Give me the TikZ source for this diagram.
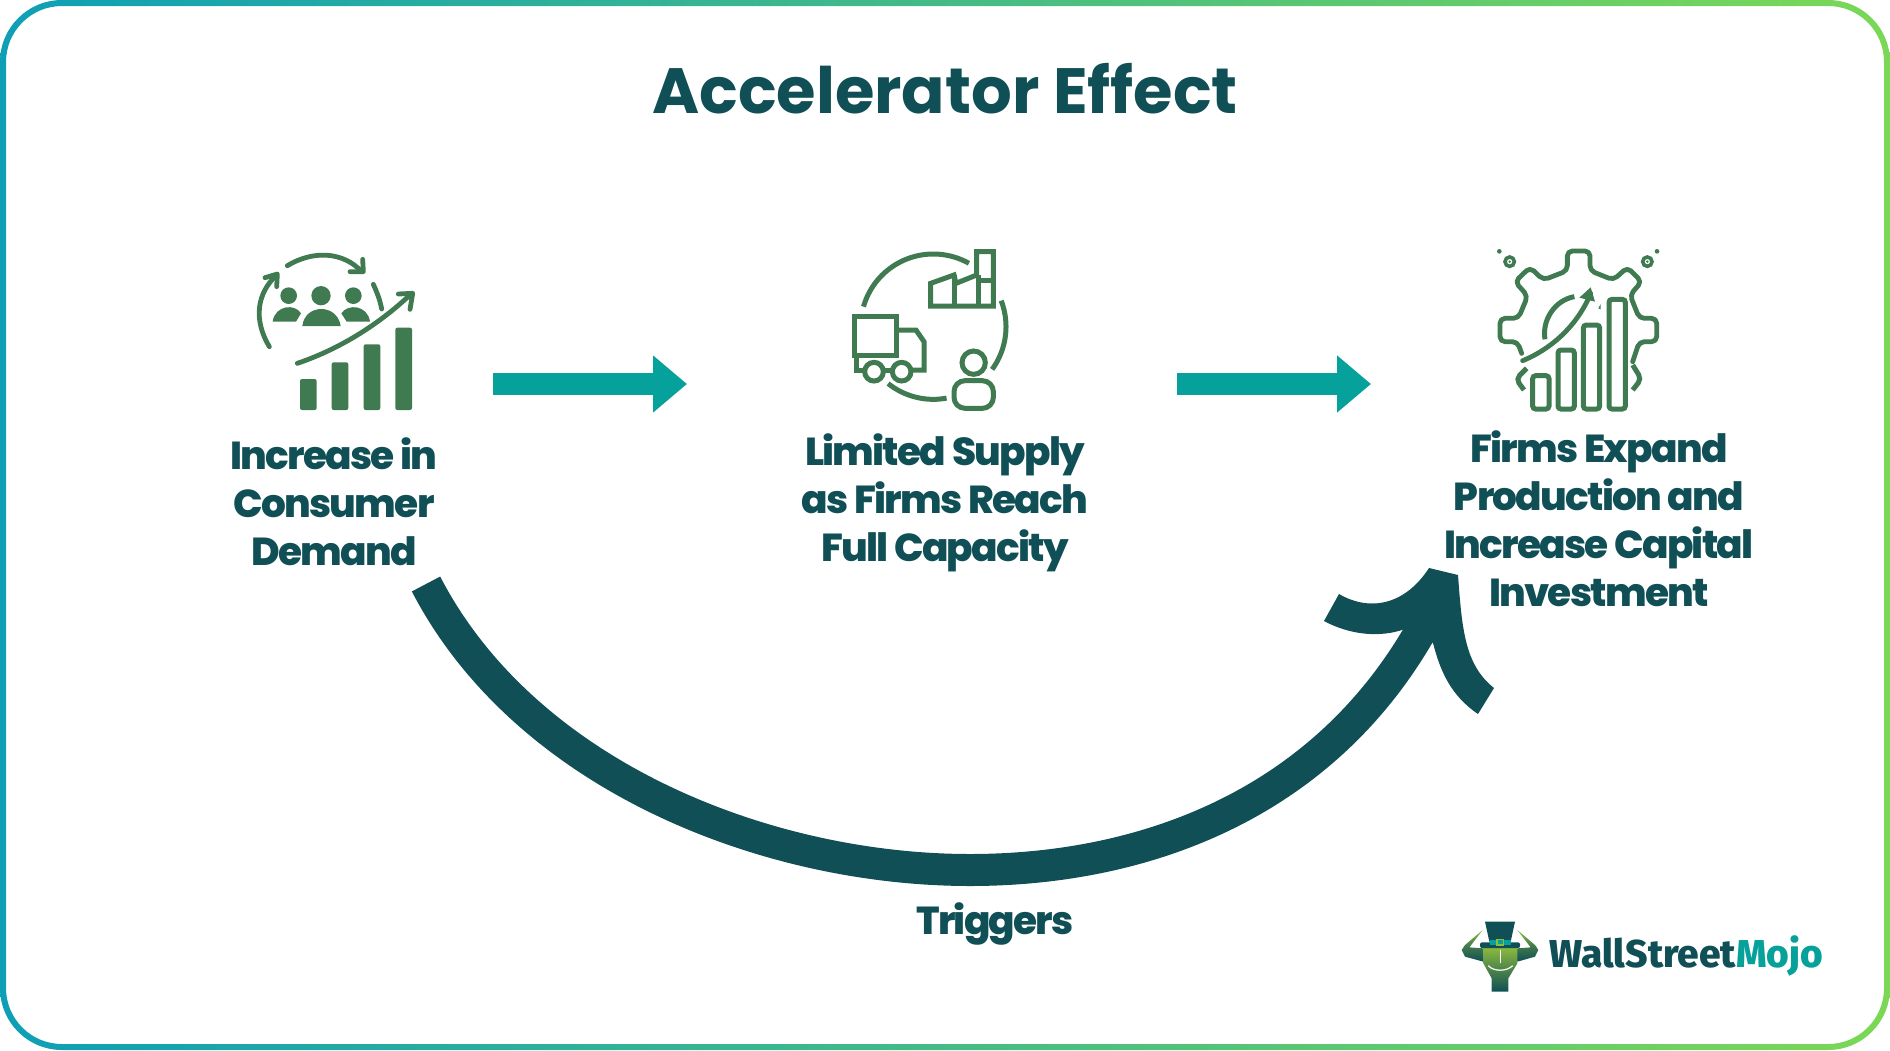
\documentclass[tikz,border=0pt]{standalone}
\usepackage{fontspec}
\setmainfont{Poppins}
\newfontfamily\capfont[LetterSpace=-4.5,BoldFont={Poppins ExtraBold}]{Poppins}
\newfontfamily\logofont[BoldFont={Fira Sans ExtraBold}]{Fira Sans}
\usetikzlibrary{arrows.meta}
\definecolor{darkteal}{HTML}{0F4F55}
\definecolor{brightteal}{HTML}{06A19B}
\definecolor{icongreen}{HTML}{3F7A50}
\definecolor{edgeleft}{HTML}{0E9FB6}
\definecolor{edgeright}{HTML}{7BD856}
\definecolor{mojogreen}{HTML}{8DBB3F}
\begin{document}
\begin{tikzpicture}[x=0.5pt, y=-0.5pt,
  caption/.style={text=darkteal, font=\capfont\fontsize{19.5}{24}\selectfont\bfseries, align=center, inner sep=0pt},
  stepflow/.style={draw=brightteal, line width=11pt, -{Triangle[length=17pt, width=27.5pt]}},
  iconline/.style={draw=icongreen, line width=2.4pt, line cap=round, line join=round},
  iconsharp/.style={draw=icongreen, line width=2.5pt, line join=miter},
  zoomed/.style={x=0.16667pt, y=-0.16667pt}]
  \useasboundingbox (0,0) rectangle (1890,1050);
  % frame
  \shade[even odd rule, left color=edgeleft, right color=edgeright]
    (0,0) [rounded corners=31pt] rectangle (1890,1050)
    (6,6) [rounded corners=28pt] rectangle (1884,1044);
  % title and captions
  \node[text=darkteal, font=\fontsize{32}{38}\selectfont\bfseries, inner sep=0pt] (title) at (945,89) {Accelerator Effect};
  \node[caption] (demand) at (334,502) {Increase in\\Consumer\\Demand};
  \node[caption] (supply) at (945,503) {Limited Supply\\as Firms Reach\\Full Capacity};
  \node[caption] (expand) at (1599,519) {Firms Expand\\Production and\\Increase Capital\\Investment};
  \node[caption] (triggers) at (995,924) {Triggers};
  % straight arrows
  \coordinate (flowA) at (493,384);
  \coordinate (flowB) at (687,384);
  \coordinate (flowC) at (1177,384);
  \coordinate (flowD) at (1371,384);
  \draw[stepflow] (flowA) -- (flowB);
  \draw[stepflow] (flowC) -- (flowD);
  % big curve and its head
  \coordinate (bendA) at (426,584);
  \coordinate (bendB) at (970,870);
  \coordinate (bendC) at (1437,600);
  \draw[darkteal, line width=16pt] (bendA) .. controls (525,775) and (765,870) .. (bendB)
    .. controls (1150,870) and (1340,800) .. (bendC);
  \fill[darkteal] (1429,568) -- (1458,575) .. controls (1462,630) and (1465,665) .. (1494,688)
    -- (1478,714) .. controls (1450,695) and (1440,670) .. (1433,643) -- (1405,629)
    .. controls (1380,638) and (1350,635) .. (1324,621) -- (1339,594)
    .. controls (1370,612) and (1405,605) .. (1429,568) -- cycle;
  % people icon
  \begin{scope}[shift={(220,230)}, zoomed]
    \foreach \bx/\by in {240/447, 335/397, 431/343, 526/293}
      \fill[icongreen, rounded corners=1pt] (\bx,540) -- (\bx,\by) -- (\bx+50,\by) -- (\bx+50,540) -- cycle;
    \draw[iconline] (232,400) .. controls (350,360) and (470,290) .. (575,190);
    \draw[iconline] (535,192) -- (578,190) -- (570,238);
    \draw[iconline] (202,107) .. controls (280,60) and (370,65) .. (425,125);
    \draw[iconline] (428,88) -- (430,125) -- (390,125);
    \draw[iconline] (148,350) .. controls (100,270) and (110,190) .. (170,135);
    \draw[iconline] (135,143) -- (172,132) -- (170,170);
    \draw[iconline] (460,163) .. controls (472,190) and (480,210) .. (485,237);
    \fill[icongreen] (303,197) circle[radius=29];
    \fill[icongreen] (206,197) circle[radius=25];
    \fill[icongreen] (400,197) circle[radius=25];
    \fill[icongreen] (247,288) .. controls (255,220) and (352,220) .. (362,288) -- cycle;
    \fill[icongreen] (158,275) .. controls (165,225) and (225,220) .. (243,250) -- (228,275) -- cycle;
    \fill[icongreen] (450,275) .. controls (443,225) and (383,220) .. (364,250) -- (380,275) -- cycle;
  \end{scope}
  % supply icon
  \begin{scope}[shift={(830,230)}, zoomed]
    \draw[iconsharp] plot[smooth, domain=60.7:164, samples=30] ({310+218*cos(\x)},{290-218*sin(\x)});
    \draw[iconsharp] plot[smooth, domain=-36:21, samples=20] ({310+218*cos(\x)},{290-218*sin(\x)});
    \draw[iconsharp] plot[smooth, domain=231.5:280.5, samples=20] ({310+218*cos(\x)},{290-218*sin(\x)});
    \draw[iconsharp] (302,228) -- (302,160) -- (372,135) -- (378,160) -- (440,135) -- (440,65) -- (490,65) -- (490,228) -- cycle;
    \draw[iconsharp] (372,135) -- (372,228) (445,135) -- (445,228) (445,150) -- (490,150);
    \draw[iconsharp] (72,260) rectangle (200,375);
    \draw[iconsharp] (200,300) -- (258,300) -- (282,335) -- (282,420) -- (245,420);
    \draw[iconsharp] (78,375) -- (78,420) -- (105,420) (165,420) -- (185,420);
    \draw[iconsharp, fill=white] (132,425) circle[radius=28];
    \draw[iconsharp, fill=white] (215,425) circle[radius=28];
    \draw[iconsharp] (431,398) circle[radius=35];
    \draw[iconsharp, rounded corners=5.5pt] (372,452) rectangle (490,535);
  \end{scope}
  % gear icon
  \begin{scope}[shift={(1480,230)}, zoomed]
    \draw[iconline, rounded corners=2.5pt] (125,370) -- (112,335) -- (60,335) -- (60,265) -- (115,265) -- (143,198)
      -- (105,155) -- (150,112) -- (190,150) -- (262,122) -- (262,63) -- (330,63) -- (330,122) -- (400,150)
      -- (442,112) -- (485,155) -- (450,195) -- (478,265) -- (530,265) -- (530,335) -- (478,335) -- (458,395);
    \draw[iconsharp, rounded corners=2.5pt] (140,415) -- (108,447) -- (132,480);
    \draw[iconsharp, rounded corners=2.5pt] (458,405) -- (484,447) -- (458,480);
    \foreach \bx/\by in {158/437, 234/360, 310/285, 387/208}
      \draw[iconsharp, rounded corners=1.5pt] (\bx,537) -- (\bx,\by) -- (\bx+49,\by) -- (\bx+49,537) -- cycle;
    \draw[iconline] (128,392) .. controls (230,350) and (300,270) .. (332,190);
    \fill[icongreen] (298,203) -- (332,172) -- (345,215) -- cycle;
    \draw[iconsharp] (195,328) .. controls (185,270) and (225,210) .. (283,200);
    \fill[icongreen] (355,235) -- (362,222) -- (362,238) -- cycle;
    \fill[icongreen] (58,64) circle[radius=7];
    \fill[icongreen] (531,64) circle[radius=7];
    \draw[iconsharp, line width=1.8pt] (89,95) circle[radius=14];
    \draw[iconsharp, line width=1.8pt] (502,95) circle[radius=14];
    \fill[icongreen] (89,95) circle[radius=4];
    \fill[icongreen] (502,95) circle[radius=4];
  \end{scope}
  % logo
  \begin{scope}[shift={(1440,900)}, zoomed]
    \shade[bottom color=darkteal, top color=mojogreen, middle color=darkteal!60!mojogreen]
      (128,90) -- (75,135) -- (65,150) -- (75,170) -- (130,185) -- (130,145) -- (88,142) -- cycle;
    \shade[bottom color=darkteal, top color=mojogreen, middle color=darkteal!60!mojogreen]
      (232,90) -- (285,135) -- (295,150) -- (285,170) -- (232,185) -- (232,145) -- (272,142) -- cycle;
    \shade[top color=mojogreen, middle color=mojogreen, bottom color=darkteal]
      (130,140) -- (232,140) -- (232,190) -- (205,235) -- (205,275) -- (155,275) -- (155,235) -- (130,190) -- cycle;
    \fill[darkteal] (135,65) -- (225,65) -- (212,125) -- (148,125) -- cycle;
    \fill[darkteal, rounded corners=1pt] (120,127) rectangle (240,144);
    \fill[brightteal] (150,120) rectangle (212,135);
    \draw[mojogreen, line width=0.7pt] (171,118) rectangle (191,135);
    \draw[white, line width=0.6pt] (145,197) .. controls (160,215) and (200,215) .. (218,197);
    \draw[white, line width=0.3pt] (180,150) -- (180,190);
  \end{scope}
  \node[inner sep=0pt, anchor=base west, font=\logofont\fontsize{19.4}{22}\selectfont\bfseries, text=darkteal] (logotext) at (1549,967)
    {WallStreet\textcolor{brightteal}{Mojo}};
\end{tikzpicture}
\end{document}
